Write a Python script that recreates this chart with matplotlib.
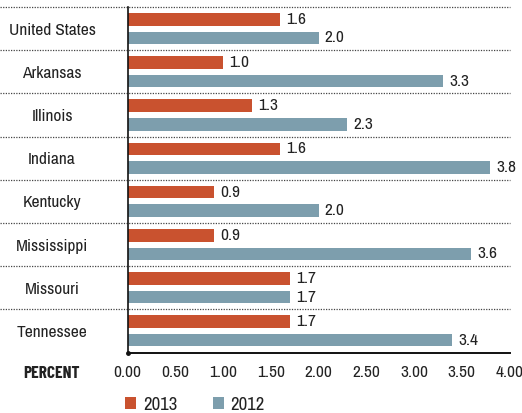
import matplotlib
matplotlib.use("Agg")
import matplotlib.pyplot as plt
from matplotlib.patches import Patch
import matplotlib.transforms as mtransforms
import numpy as np

plt.rcParams['font.family'] = ['Archivo Narrow', 'DejaVu Sans']

categories = ["United States", "Arkansas", "Illinois", "Indiana", "Kentucky",
              "Mississippi", "Missouri", "Tennessee"]
values_2013 = [1.6, 1.0, 1.3, 1.6, 0.9, 0.9, 1.7, 1.7]
values_2012 = [2.0, 3.3, 2.3, 3.8, 2.0, 3.6, 1.7, 3.4]
xticks = [0.0, 0.5, 1.0, 1.5, 2.0, 2.5, 3.0, 3.5, 4.0]
xtick_labels = ["0.00", "0.50", "1.00", "1.50", "2.00", "2.50", "3.00", "3.50", "4.00"]

c2013 = "#C9522F"
c2012 = "#7D9EAD"
txt = "#222222"

W, H = 522, 413
fig = plt.figure(figsize=(W / 100, H / 100), dpi=100)
left, right, top, bottom = 127.7, 509.5, 7.0, 352.5
ax = fig.add_axes([left / W, 1 - bottom / H, (right - left) / W, (bottom - top) / H])

y = np.arange(len(categories))
bh = 0.29
off = 0.215
ax.barh(y - off, values_2013, height=bh, color=c2013, zorder=2)
ax.barh(y + off, values_2012, height=bh, color=c2012, zorder=2)

for yi, v in zip(y, values_2013):
    ax.text(v + 0.065, yi - off, f"{v:.1f}", va="center", ha="left", fontsize=12.5, color=txt)
for yi, v in zip(y, values_2012):
    ax.text(v + 0.065, yi + off, f"{v:.1f}", va="center", ha="left", fontsize=12.5, color=txt)

ax.set_xlim(0, 4)
ax.set_ylim(len(categories) - 0.5, -0.5)

ax.set_xticks(xticks)
ax.set_xticklabels(xtick_labels, fontsize=12.5, color=txt)
ax.tick_params(axis="x", length=0, pad=9)

ax.set_yticks(y)
ax.set_yticklabels(categories, fontsize=12.5, color=txt)
ax.tick_params(axis="y", length=0, pad=54.5)
for lab in ax.get_yticklabels():
    lab.set_horizontalalignment("center")
    lab.set_verticalalignment("center_baseline")

for s in ["top", "right"]:
    ax.spines[s].set_visible(False)
ax.spines["left"].set_color("#111111")
ax.spines["left"].set_linewidth(1.2)
ax.spines["bottom"].set_color("#111111")
ax.spines["bottom"].set_linewidth(1.4)

# dotted separators across full width
trans = mtransforms.blended_transform_factory(ax.transAxes, ax.transData)
x0 = -(left / W) / ((right - left) / W)
for k in range(len(categories)):
    ax.plot([x0, 1.0], [k - 0.5, k - 0.5], transform=trans, clip_on=False,
            color="#444444", lw=0.9, linestyle=(0, (1, 1.1)), zorder=1)

ax.plot([0], [len(categories) - 0.5], "o", ms=2.5, color="#111111", clip_on=False, zorder=5)

fig.text(52 / W, 1 - 373 / H, "PERCENT", ha="center", va="center",
         fontsize=12.5, fontweight="bold", color=txt,
         family=["Barlow Condensed", "Archivo Narrow", "DejaVu Sans"])

handles = [Patch(facecolor=c2013, edgecolor="none", label="2013"),
           Patch(facecolor=c2012, edgecolor="none", label="2012")]
fig.legend(handles=handles, loc="center left", bbox_to_anchor=(125 / W, 1 - 405 / H),
           ncol=2, frameon=False, fontsize=13.5, handlelength=0.6, handleheight=0.6,
           handletextpad=0.35, columnspacing=1.9, borderpad=0, borderaxespad=0,
           labelcolor=txt)

fig.savefig("out.png", dpi=100)
